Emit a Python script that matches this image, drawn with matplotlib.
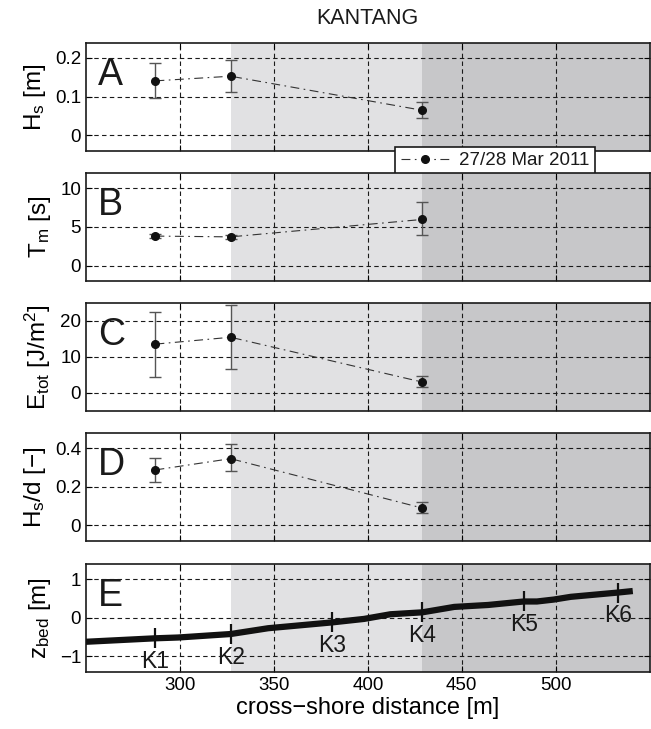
import numpy as np
import matplotlib
matplotlib.use("Agg")
import matplotlib.pyplot as plt

plt.rcParams.update({
    "font.family": ["Liberation Sans", "DejaVu Sans"],
    "text.color": "#1a1a1a",
    "axes.edgecolor": "#1a1a1a",
    "mathtext.fontset": "custom",
    "mathtext.rm": "Liberation Sans",
    "mathtext.it": "Liberation Sans",
})

# --- data ---
x_meas = [287, 327, 429]
hs = [0.141, 0.153, 0.065]
hs_lo = [0.098, 0.111, 0.044]
hs_hi = [0.186, 0.194, 0.086]
tm = [3.8, 3.7, 5.95]
tm_lo = [3.5, 3.45, 3.9]
tm_hi = [4.1, 3.95, 8.2]
etot = [13.5, 15.4, 3.0]
etot_lo = [4.4, 6.6, 1.6]
etot_hi = [22.5, 24.2, 4.7]
hsd = [0.287, 0.345, 0.09]
hsd_lo = [0.223, 0.28, 0.065]
hsd_hi = [0.349, 0.42, 0.12]

prof_x = [250, 287, 299, 327, 347, 381, 398, 412, 429, 446, 464, 483, 490, 499, 508, 533, 541]
prof_z = [-0.62, -0.53, -0.51, -0.42, -0.27, -0.12, -0.03, 0.09, 0.14, 0.28, 0.33,
          0.42, 0.42, 0.47, 0.54, 0.65, 0.69]

st_names = ["K1", "K2", "K3", "K4", "K5", "K6"]
st_x = [287, 327, 381, 429, 483, 533]
st_z = [-0.53, -0.42, -0.12, 0.14, 0.42, 0.65]

zone_light = (327, 429)
zone_dark = (429, 550)

panels = [
    ("A", r"H$_s$ [m]", hs, hs_lo, hs_hi, (-0.04, 0.24), [0, 0.1, 0.2], ["0", "0.1", "0.2"]),
    ("B", r"T$_m$ [s]", tm, tm_lo, tm_hi, (-2, 12), [0, 5, 10], ["0", "5", "10"]),
    ("C", r"E$_{tot}$ [J/m$^2$]", etot, etot_lo, etot_hi, (-5, 25), [0, 10, 20], ["0", "10", "20"]),
    ("D", r"H$_s$/d [−]", hsd, hsd_lo, hsd_hi, (-0.08, 0.48), [0, 0.2, 0.4], ["0", "0.2", "0.4"]),
]

fig = plt.figure(figsize=(6.51, 7.29), dpi=100)
left, width, height = 0.132, 0.866, 0.1488
bottoms = [0.7929, 0.6145, 0.4362, 0.2579, 0.0782]
axes = [fig.add_axes([left, b, width, height]) for b in bottoms]


def style_axis(ax):
    ax.set_xlim(250, 550)
    ax.axvspan(*zone_light, color="#e1e1e3", lw=0, zorder=0)
    ax.axvspan(*zone_dark, color="#c7c7c9", lw=0, zorder=0)
    ax.set_xticks([300, 350, 400, 450, 500])
    ax.grid(True, color="#1a1a1a", linestyle=(0, (4, 3)), linewidth=0.8)
    ax.set_axisbelow(True)
    ax.tick_params(direction="in", top=True, right=True, labelsize=13.5, length=4)
    for s in ax.spines.values():
        s.set_linewidth(1.2)


for ax, (letter, ylab, y, lo, hi, ylim, yt, ytl) in zip(axes[:4], panels):
    style_axis(ax)
    yerr = [np.array(y) - np.array(lo), np.array(hi) - np.array(y)]
    ax.errorbar(x_meas, y, yerr=yerr, fmt="none", ecolor="#555555", elinewidth=1.0,
                capsize=4, capthick=1.0, zorder=3)
    line, = ax.plot(x_meas, y, color="#333333", linestyle=(0, (8, 4, 1.5, 4)), lw=0.8,
                    marker="o", markersize=5.5, markerfacecolor="#111111",
                    markeredgecolor="#111111", zorder=4, label="27/28 Mar 2011")
    ax.set_ylim(*ylim)
    ax.set_yticks(yt)
    ax.set_yticklabels(ytl)
    ax.set_xticklabels([])
    ax.set_ylabel(ylab, fontsize=17.5, labelpad=5)
    ax.text(0.021, 0.70, letter, transform=ax.transAxes, fontsize=27, va="center", ha="left")
    if letter == "A":
        leg_line = line

# legend between A and B
leg = axes[0].legend(handles=[leg_line], loc="upper left", bbox_to_anchor=(0.607, 0.799),
                     bbox_transform=fig.transFigure, fontsize=13.5, frameon=True, fancybox=False,
                     framealpha=1, edgecolor="#1a1a1a", borderpad=0.3, handlelength=2.6,
                     handletextpad=0.5, borderaxespad=0)
leg.get_frame().set_linewidth(1.2)
leg.set_zorder(10)

# panel E: bed profile
ax = axes[4]
style_axis(ax)
ax.plot(prof_x, prof_z, color="#111111", lw=4.5, solid_capstyle="butt", zorder=3)
ax.plot(st_x, st_z, linestyle="none", marker="|", markersize=14, markeredgewidth=1.6,
        color="#111111", zorder=4)
for name, sx, sz in zip(st_names, st_x, st_z):
    ax.text(sx, sz - 0.6, name, ha="center", va="center", fontsize=16.5, zorder=5)
ax.set_ylim(-1.4, 1.4)
ax.set_yticks([-1, 0, 1])
ax.set_yticklabels(["−1", "0", "1"])
ax.set_ylabel(r"z$_{bed}$ [m]", fontsize=17.5, labelpad=5)
ax.set_xlabel("cross−shore distance [m]", fontsize=17, labelpad=2)
ax.text(0.021, 0.70, "E", transform=ax.transAxes, fontsize=27, va="center", ha="left")

fig.text(0.565, 0.975, "KANTANG", ha="center", va="center", fontsize=15.5)

fig.savefig("out.png", dpi=100)
